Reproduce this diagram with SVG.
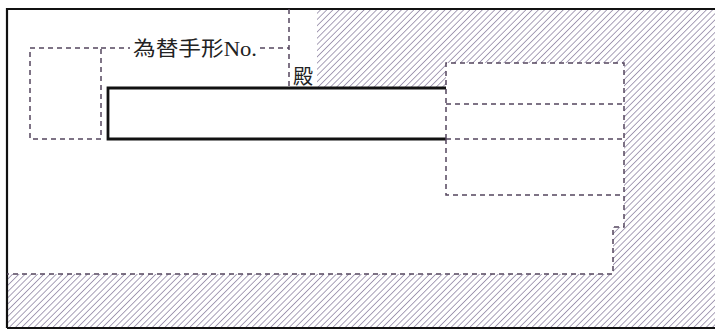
<svg xmlns="http://www.w3.org/2000/svg" width="715" height="329" viewBox="0 0 715 329">
<defs>
<pattern id="hatch" patternUnits="userSpaceOnUse" width="4.4" height="4.4" patternTransform="rotate(45)">
<line x1="0" y1="0" x2="0" y2="4.4" stroke="#85799a" stroke-width="1.4"/>
</pattern>
</defs>
<style>
.dash{fill:none;stroke:#54465e;stroke-width:1.5;stroke-dasharray:5 4}
.thick{fill:none;stroke:#111;stroke-width:2.8}
.border{fill:none;stroke:#111;stroke-width:2.2}
.lbl{font-family:"Liberation Serif","Noto Sans CJK JP",serif;font-size:20px;fill:#222}
</style>
<rect width="715" height="329" fill="#fff"/>
<g id="hatching">
<path d="M317,9 H715 V328 H7 V274 H613 V227 H624 V63 H446 V88 H317 Z" fill="url(#hatch)"/>
</g>
<g id="border">
<path class="border" d="M7,328 V9 H715"/>
<path class="border" d="M7,328 H715"/>
</g>
<g id="stamp-box">
<rect class="dash" x="30" y="48" width="71" height="91"/>
</g>
<g id="bill-number">
<path class="dash" d="M101,48 H130"/>
<path class="dash" d="M260,48 H289"/>
<path class="dash" d="M289,9 V88"/>
<text class="lbl" x="133" y="56" textLength="124" lengthAdjust="spacingAndGlyphs">為替手形No.</text>
<text class="lbl" x="293" y="84">殿</text>
</g>
<g id="payee-bar">
<path class="thick" d="M446,88 H108 V139 H446"/>
</g>
<g id="right-box">
<path class="dash" d="M446,139 V63 H624 V227 H613 V274 H7"/>
<path class="dash" d="M446,104 H624"/>
<path class="dash" d="M446,139 H624"/>
<path class="dash" d="M446,139 V195 H624"/>
</g>
</svg>
